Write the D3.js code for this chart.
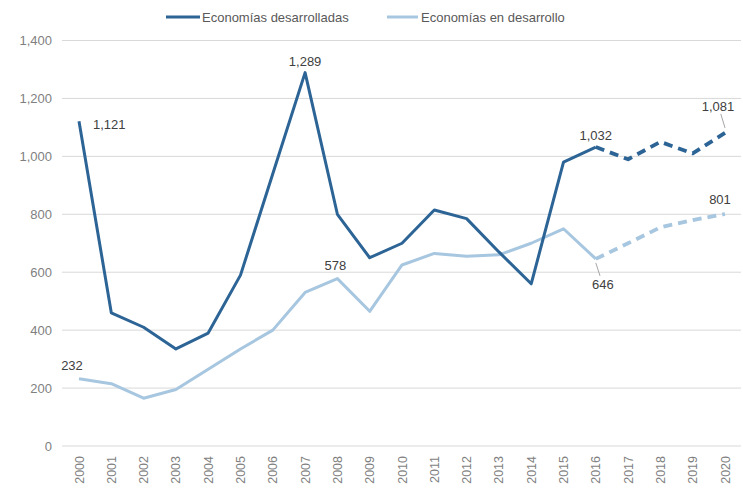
<!DOCTYPE html>
<html><head><meta charset="utf-8">
<script src="https://cdn.jsdelivr.net/npm/d3@7"></script>
<style>body{margin:0;background:#fff}svg{display:block;font-family:"Liberation Sans",Arial,sans-serif}</style>
</head><body><svg id="c" width="743" height="495"></svg>
<script>
const years = ["2000","2001","2002","2003","2004","2005","2006","2007","2008","2009","2010","2011","2012","2013","2014","2015","2016","2017","2018","2019","2020"];
const desarrolladas = [1121,460,410,335,390,590,940,1289,800,650,700,815,785,670,560,980,1032,990,1050,1010,1081];
const enDesarrollo = [232,215,165,195,265,335,400,530,578,465,625,665,655,660,700,750,646,700,755,780,801];
const yTicks = [0,200,400,600,800,1000,1200,1400];
const seriesNames = ["Economías desarrolladas","Economías en desarrollo"];
const dashFromIndex = 16;

const svg = d3.select("#c");
const x = d3.scalePoint().domain(years).range([79,725]);
const y = d3.scaleLinear().domain([0,1400]).range([446,40.5]);
const fmt = d3.format(",");

// grid
svg.append("g").selectAll("line").data(yTicks).join("line")
  .attr("x1",62).attr("x2",741).attr("y1",d=>y(d)).attr("y2",d=>y(d))
  .attr("stroke","#d9d9d9").attr("stroke-width",1);
// y labels
svg.append("g").selectAll("text").data(yTicks).join("text")
  .attr("x",52).attr("y",d=>y(d)+4.5).attr("text-anchor","end")
  .attr("font-size",13).attr("fill","#7f7f7f").text(d=>fmt(d));
// x labels
svg.append("g").selectAll("text").data(years).join("text")
  .attr("transform",d=>`translate(${x(d)+4.5},456) rotate(-90)`)
  .attr("text-anchor","end").attr("font-size",12.5).attr("fill","#7f7f7f").text(d=>d);

const colors = ["#2d6496","#a7c6df"];
const widths = [3,3];
function drawSeries(vals,i){
  const pts = vals.map((v,k)=>[x(years[k]),y(v)]);
  const line = d3.line();
  svg.append("path").attr("d",line(pts.slice(0,dashFromIndex+1)))
    .attr("fill","none").attr("stroke",colors[i]).attr("stroke-width",widths[i]).attr("stroke-linejoin","round");
  svg.append("path").attr("d",line(pts.slice(dashFromIndex)))
    .attr("fill","none").attr("stroke",colors[i]).attr("stroke-width",widths[i]+0.8)
    .attr("stroke-dasharray","9,6").attr("stroke-linejoin","round");
}
drawSeries(enDesarrollo,1);
drawSeries(desarrolladas,0);

// data labels
const labels = [
  {s:desarrolladas,k:0,dx:14,dy:8,anchor:"start"},
  {s:desarrolladas,k:7,dx:0,dy:-7,anchor:"middle"},
  {s:desarrolladas,k:16,dx:0,dy:-7,anchor:"middle"},
  {s:desarrolladas,k:20,dx:-7,dy:-22,anchor:"middle",leader:true},
  {s:enDesarrollo,k:0,dx:-7,dy:-9,anchor:"middle"},
  {s:enDesarrollo,k:8,dx:-2,dy:-9,anchor:"middle"},
  {s:enDesarrollo,k:16,dx:7,dy:30,anchor:"middle",leader:true},
  {s:enDesarrollo,k:20,dx:-5,dy:-10,anchor:"middle"}
];
labels.forEach(l=>{
  const px=x(years[l.k]), py=y(l.s[l.k]);
  if(l.leader){
    const ty = l.dy<0 ? py+l.dy+3 : py+l.dy-13;
    svg.append("line").attr("x1",px+l.dx*0.6).attr("y1",ty).attr("x2",px).attr("y2",l.dy<0?py-5:py+4)
      .attr("stroke","#a6a6a6").attr("stroke-width",1);
  }
  svg.append("text").attr("x",px+l.dx).attr("y",py+l.dy).attr("text-anchor",l.anchor)
    .attr("font-size",13).attr("fill","#404040").text(fmt(l.s[l.k]));
});

// legend
const leg = [{x1:166,x2:200,tx:202},{x1:387,x2:418,tx:421}];
leg.forEach((g,i)=>{
  svg.append("line").attr("x1",g.x1).attr("x2",g.x2).attr("y1",17).attr("y2",17)
    .attr("stroke",colors[i]).attr("stroke-width",3);
  svg.append("text").attr("x",g.tx).attr("y",21.5).attr("font-size",13).attr("fill","#595959")
    .text(seriesNames[i]);
});
</script></body></html>
